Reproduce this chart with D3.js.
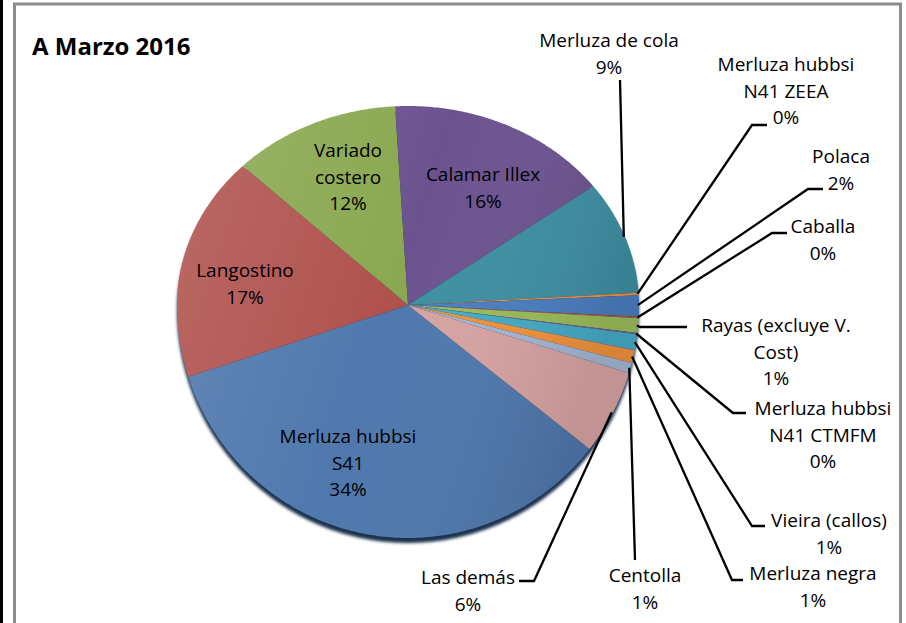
<!DOCTYPE html>
<html>
<head>
<meta charset="utf-8">
<script src="https://cdn.jsdelivr.net/npm/d3@7/dist/d3.min.js"></script>
<style>
  body { margin: 0; background: #fff; }
  svg { display: block; }
  text { font-family: "Open Sans", Lato, sans-serif; fill: #000; }
</style>
</head>
<body>
<svg width="906" height="623"></svg>
<script>
// data (clockwise, same order as the original sheet)
const categories = [
  "Merluza hubbsi\nS41", "Langostino", "Variado\ncostero", "Calamar Illex",
  "Merluza de cola", "Merluza hubbsi\nN41 ZEEA", "Polaca", "Caballa",
  "Rayas (excluye V.\nCost)", "Merluza hubbsi\nN41 CTMFM", "Vieira (callos)",
  "Merluza negra", "Centolla", "Las demás"
];
const values = [34.4, 17.3, 11.8, 15.7, 9.2, 0.2, 1.6, 0.1, 1.0, 0.1, 1.1, 0.9, 0.7, 5.9];
const pctLabels = ["34%", "17%", "12%", "16%", "9%", "0%", "2%", "0%", "1%", "0%", "1%", "1%", "1%", "6%"];

const colors = ["#4f78ad", "#b0524e", "#8aa851", "#6c5390", "#3e8fa2", "#f0923c", "#4a7ec0",
  "#c0504d", "#9bbb59", "#7d60a0", "#46aac6", "#f0923c", "#a3b6d4", "#d6a3a2"];

// label placement: first baseline + leader points (after the slice edge point)
const labelLayout = [
  { x: 348, y: 443 },
  { x: 245, y: 277 },
  { x: 348, y: 157 },
  { x: 483, y: 181 },
  { x: 609, y: 47,  leader: [[620, 80]] },
  { x: 786, y: 71,  leader: [[752, 125], [767, 125]] },
  { x: 841, y: 163, leader: [[808, 189], [823, 189]] },
  { x: 823, y: 233, leader: [[772, 233], [787, 233]] },
  { x: 776, y: 332, leader: [[640, 327], [687, 327]] },
  { x: 823, y: 415, leader: [[733, 413], [746, 413]] },
  { x: 829, y: 527, leader: [[752, 526], [765, 526]] },
  { x: 813, y: 580, leader: [[732, 580], [743, 580]] },
  { x: 645, y: 582, leader: [[635, 560]] },
  { x: 468, y: 584, leader: [[534, 581], [519, 581]] }
];

const svg = d3.select("svg");

// frame
svg.append("rect").attr("x", 0).attr("y", 0).attr("width", 3).attr("height", 623).attr("fill", "#000");
svg.append("rect")
  .attr("x", 14.5).attr("y", 4).attr("width", 886).attr("height", 700)
  .attr("fill", "#fff").attr("stroke", "#8c8c8c").attr("stroke-width", 3);

svg.append("text")
  .attr("x", 32).attr("y", 55)
  .style("font-size", "24px").style("font-weight", "bold")
  .text("A Marzo 2016");

// pie seen slightly from above: top half flatter than bottom half
const cx = 408, cy = 305, rx = 231, ryTop = 199, ryBot = 233;
const edge = (a, k = 1) => {
  const c = Math.cos(a);
  return [cx + k * rx * Math.sin(a), cy - k * c * (c > 0 ? ryTop : ryBot)];
};
const startAngle = 128.2 * Math.PI / 180;

const pie = d3.pie().sort(null).value(d => d)
  .startAngle(startAngle).endAngle(startAngle + 2 * Math.PI);
const arcs = pie(values);

const line = d3.line();
const slicePath = (a0, a1) => {
  const step = Math.PI / 360;
  const pts = [[cx, cy]];
  d3.range(a0, a1, step).forEach(a => pts.push(edge(a)));
  pts.push(edge(a1));
  return line(pts) + "Z";
};

const defs = svg.append("defs");
const shade = defs.append("linearGradient").attr("id", "shade")
  .attr("x1", "0%").attr("y1", "0%").attr("x2", "100%").attr("y2", "30%");
shade.append("stop").attr("offset", "0%").attr("stop-color", "#fff").attr("stop-opacity", 0.14);
shade.append("stop").attr("offset", "55%").attr("stop-color", "#fff").attr("stop-opacity", 0);
shade.append("stop").attr("offset", "100%").attr("stop-color", "#000").attr("stop-opacity", 0.1);
defs.append("filter").attr("id", "blur")
  .append("feGaussianBlur").attr("stdDeviation", 1.5);

// bottom shadow
svg.append("path")
  .attr("d", slicePath(0, 2 * Math.PI))
  .attr("transform", "translate(0,5)")
  .attr("fill", "#1d3150")
  .attr("filter", "url(#blur)");

svg.append("g").selectAll("path")
  .data(arcs)
  .join("path")
  .attr("d", d => slicePath(d.startAngle, d.endAngle))
  .attr("fill", (d, i) => colors[i]);

svg.append("path")
  .attr("d", slicePath(0, 2 * Math.PI))
  .attr("fill", "url(#shade)");

// leader lines
svg.append("g").selectAll("path")
  .data(arcs.filter((d, i) => labelLayout[i].leader))
  .join("path")
  .attr("d", d => {
    const i = d.index;
    const mid = (d.startAngle + d.endAngle) / 2;
    return line([edge(mid, 0.995), ...labelLayout[i].leader]);
  })
  .attr("fill", "none").attr("stroke", "#000").attr("stroke-width", 2.3);

// labels
const lab = svg.append("g").selectAll("text")
  .data(arcs)
  .join("text")
  .attr("text-anchor", "middle")
  .style("font-size", "19px");

lab.each(function (d, i) {
  const lines = categories[i].split("\n").concat(pctLabels[i]);
  d3.select(this).selectAll("tspan")
    .data(lines)
    .join("tspan")
    .attr("x", labelLayout[i].x)
    .attr("y", (t, j) => labelLayout[i].y + j * 26.5)
    .text(t => t);
});
</script>
</body>
</html>
